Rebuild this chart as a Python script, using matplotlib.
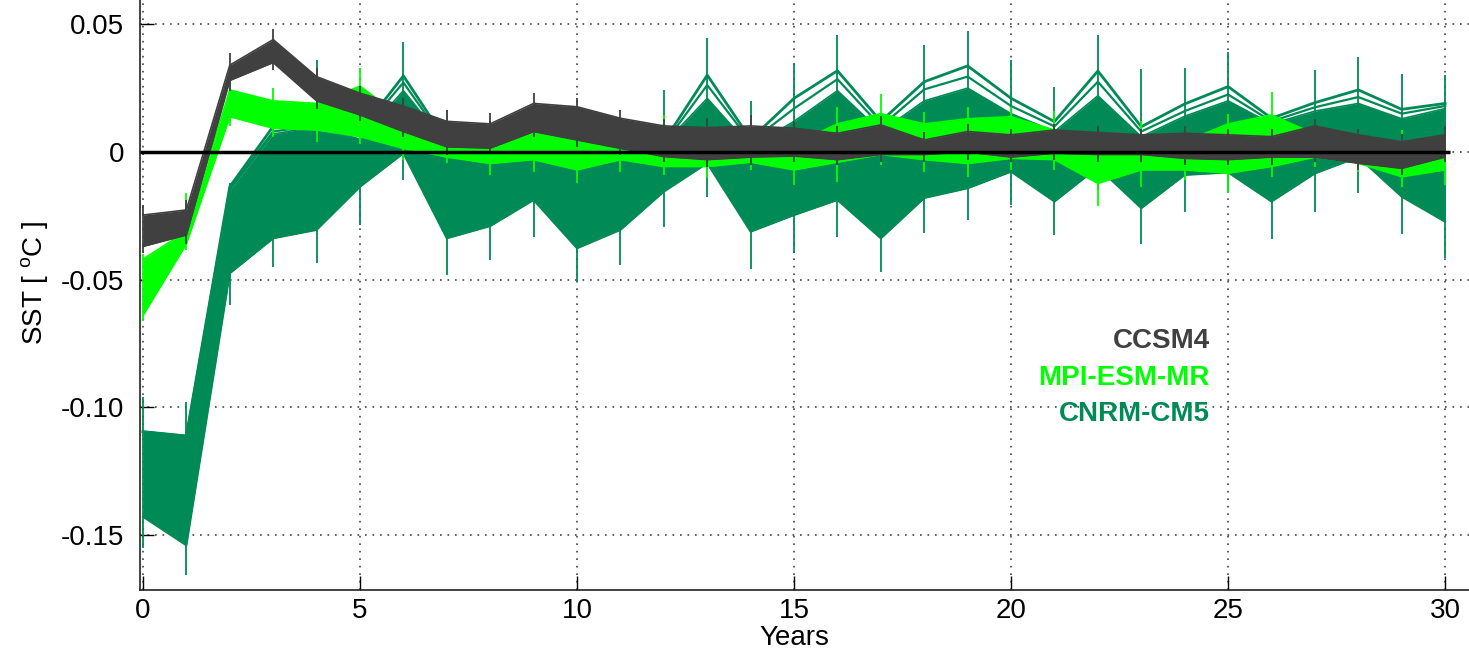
import matplotlib
matplotlib.use("Agg")
import matplotlib.pyplot as plt
import numpy as np

# Drift of SST ensembles after initialisation, three models

years = np.arange(31)

# CCSM4 ensemble envelope and error bars
ccsm4_hi = [-0.0247, -0.0227, 0.034, 0.044, 0.0295, 0.023, 0.018, 0.012, 0.011, 0.019, 0.0177,
            0.0132, 0.0102, 0.0095, 0.0102, 0.0093, 0.0073, 0.0106, 0.0047, 0.008, 0.0067,
            0.0086, 0.0076, 0.0067, 0.0073, 0.0067, 0.006, 0.0102, 0.0067, 0.004, 0.0067]
ccsm4_lo = [-0.037, -0.0325, 0.028, 0.035, 0.020, 0.0145, 0.008, 0.002, 0.0015, 0.008, 0.0047,
            0.0014, -0.0018, -0.003, -0.002, -0.0016, -0.003, -0.001, -0.001, 0.0, -0.002,
            -0.0005, -0.001, -0.001, -0.0025, -0.003, -0.002, -0.002, -0.0044, -0.0064, -0.002]
ccsm4_bar_hi = [-0.0207, -0.019, 0.0386, 0.048, 0.033, 0.026, 0.021, 0.0164, 0.0154, 0.0232, 0.021,
                0.0164, 0.013, 0.0132, 0.0145, 0.012, 0.010, 0.014, 0.008, 0.011, 0.009,
                0.011, 0.010, 0.009, 0.010, 0.009, 0.009, 0.013, 0.009, 0.007, 0.010]
ccsm4_bar_lo = [-0.0397, -0.036, 0.024, 0.032, 0.017, 0.012, 0.006, -0.001, 0.0, 0.006, 0.002,
                -0.001, -0.004, -0.006, -0.005, -0.004, -0.005, -0.004, -0.004, -0.003, -0.004,
                -0.003, -0.004, -0.004, -0.005, -0.005, -0.005, -0.004, -0.007, -0.009, -0.004]

# MPI-ESM-MR
mpi_hi = [-0.042, -0.031, 0.0243, 0.020, 0.019, 0.0258, 0.013, 0.004, 0.003, 0.009, 0.0047,
          0.0047, 0.0106, 0.002, 0.004, 0.003, 0.011, 0.015, 0.011, 0.013, 0.0138,
          0.0086, 0.002, 0.003, 0.004, 0.011, 0.0145, 0.007, 0.003, 0.002, 0.003]
mpi_lo = [-0.064, -0.036, 0.0138, 0.0093, 0.0086, 0.006, 0.0014, -0.002, -0.0045, -0.003, -0.007,
          -0.003, -0.0057, -0.0057, -0.004, -0.007, -0.004, -0.001, -0.003, -0.0045, -0.0025,
          -0.003, -0.0123, -0.007, -0.007, -0.0083, -0.0057, -0.002, -0.0044, -0.0097, -0.007]
mpi_bar_hi = [-0.040, -0.016, 0.028, 0.025, 0.024, 0.0328, 0.018, 0.0164, 0.010, 0.012, 0.010,
              0.009, 0.0145, 0.006, 0.008, 0.008, 0.0177, 0.0226, 0.0158, 0.0177, 0.0177,
              0.016, 0.008, 0.012, 0.010, 0.015, 0.0234, 0.012, 0.008, 0.0086, 0.008]
mpi_bar_lo = [-0.066, -0.0384, 0.010, 0.006, 0.004, 0.003, -0.003, -0.0044, -0.009, -0.0077, -0.0123,
              -0.0077, -0.009, -0.0103, -0.007, -0.0129, -0.0116, -0.005, -0.0077, -0.0097, -0.007,
              -0.007, -0.021, -0.0136, -0.011, -0.016, -0.0097, -0.006, -0.008, -0.0136, -0.0129]

# CNRM-CM5 (outer member, second member, dense core top, lower envelope)
cnrm_hi = [-0.1095, -0.1112, -0.0136, 0.010, 0.0115, 0.008, 0.0298, 0.004, 0.004, 0.004, 0.004,
           0.004, 0.004, 0.0301, 0.005, 0.021, 0.0318, 0.012, 0.0275, 0.0337, 0.021,
           0.0119, 0.0317, 0.0099, 0.0188, 0.0256, 0.0132, 0.0193, 0.0243, 0.0167, 0.019]
cnrm_mid = [-0.1095, -0.1112, -0.0145, 0.008, 0.0105, 0.007, 0.0272, 0.003, 0.003, 0.003, 0.003,
            0.003, 0.003, 0.0262, 0.004, 0.017, 0.0285, 0.010, 0.0245, 0.0295, 0.018,
            0.010, 0.0275, 0.008, 0.016, 0.0225, 0.012, 0.0175, 0.0215, 0.015, 0.018]
cnrm_core = [-0.1095, -0.1112, -0.015, 0.007, 0.010, 0.005, 0.024, 0.003, 0.002, 0.001, 0.002,
             0.002, 0.003, 0.021, 0.002, 0.012, 0.024, 0.008, 0.020, 0.025, 0.015,
             0.008, 0.022, 0.006, 0.014, 0.020, 0.011, 0.016, 0.019, 0.013, 0.017]
cnrm_lo = [-0.1428, -0.154, -0.0475, -0.0338, -0.0305, -0.0136, -0.0005, -0.0338, -0.029, -0.0188, -0.0377,
           -0.0305, -0.0155, -0.0044, -0.0312, -0.0247, -0.0188, -0.0338, -0.018, -0.0142, -0.0077,
           -0.0194, -0.006, -0.022, -0.009, -0.008, -0.0194, -0.0084, -0.002, -0.0175, -0.0273]
cnrm_bar_hi = [-0.0958, -0.0978, -0.012, 0.014, 0.036, 0.010, 0.0432, 0.012, 0.012, 0.010, 0.008,
               0.010, 0.0243, 0.0448, 0.020, 0.035, 0.0458, 0.015, 0.0419, 0.0475, 0.036,
               0.0253, 0.0458, 0.0325, 0.033, 0.0393, 0.015, 0.032, 0.0373, 0.0305, 0.030]
cnrm_bar_lo = [-0.155, -0.1656, -0.060, -0.045, -0.0435, -0.0286, -0.011, -0.048, -0.0423, -0.0334, -0.0508,
               -0.0442, -0.0292, -0.0175, -0.046, -0.0394, -0.0331, -0.0469, -0.0316, -0.0266, -0.0208,
               -0.0326, -0.015, -0.036, -0.0234, -0.0162, -0.0342, -0.0234, -0.0162, -0.0322, -0.0414]

models = ["CCSM4", "MPI-ESM-MR", "CNRM-CM5"]
c_gray = "#404040"
c_lime = "#00ff00"
c_cnrm = "#008a55"

plt.rcParams["font.family"] = "Liberation Sans"
plt.rcParams["mathtext.fontset"] = "custom"
plt.rcParams["mathtext.rm"] = "Liberation Sans"

fig = plt.figure(figsize=(14.69, 6.54), dpi=100)
ax = fig.add_axes([139.5 / 1469, 64 / 654, 1329.5 / 1469, 590 / 654])

# CNRM first (bottom), then MPI, then CCSM4 on top
ax.fill_between(years, cnrm_lo, cnrm_core, color=c_cnrm, lw=0, zorder=2)
ax.plot(years, cnrm_hi, color=c_cnrm, lw=2, zorder=2)
ax.plot(years, cnrm_mid, color=c_cnrm, lw=1.6, zorder=2)
ax.plot(years, cnrm_core, color=c_cnrm, lw=1.2, zorder=2)
ax.plot(years, cnrm_lo, color=c_cnrm, lw=1.5, zorder=2)
ax.vlines(years, cnrm_bar_lo, cnrm_bar_hi, color=c_cnrm, lw=1.3, zorder=2)

ax.fill_between(years, mpi_lo, mpi_hi, color=c_lime, lw=0, zorder=3)
ax.plot(years, mpi_hi, color=c_lime, lw=1.2, zorder=3)
ax.plot(years, mpi_lo, color=c_lime, lw=1.2, zorder=3)
ax.vlines(years, mpi_bar_lo, mpi_bar_hi, color=c_lime, lw=1.3, zorder=3)

ax.fill_between(years, ccsm4_lo, ccsm4_hi, color=c_gray, lw=0, zorder=4)
ax.plot(years, ccsm4_hi, color=c_gray, lw=1.2, zorder=4)
ax.plot(years, ccsm4_lo, color=c_gray, lw=1.2, zorder=4)
ax.vlines(years, ccsm4_bar_lo, ccsm4_bar_hi, color=c_gray, lw=1.3, zorder=4)

ax.set_xlim(-0.08, 30.55)
ax.set_ylim(-0.1715, 0.0595)
ax.hlines(0, -0.08, years[-1] + 0.12, color="black", lw=2.5, zorder=6)

ax.set_xticks(np.arange(0, 31, 5))
ax.set_yticks([-0.15, -0.10, -0.05, 0, 0.05])
ax.set_yticklabels(["-0.15", "-0.10", "-0.05", "0", "0.05"])
ax.tick_params(direction="in", length=10, width=1, labelsize=20, colors="black")
ax.tick_params(axis="y", pad=11)
ax.tick_params(axis="x", pad=6)
ax.spines["top"].set_visible(False)
ax.spines["right"].set_visible(False)
for s in ["left", "bottom"]:
    ax.spines[s].set_linewidth(1.2)
    ax.spines[s].set_color("#222222")

ax.set_axisbelow(True)
ax.grid(True, color="#444444", lw=1.2, linestyle=(0, (1, 3.5)))

ax.set_xlabel("Years", fontsize=20)
ax.xaxis.set_label_coords(0.4923, -0.081)
ax.xaxis.label.set_va("center")
ax.set_ylabel("SST [ $^{\\mathrm{o}}$C ]", fontsize=20)
ax.yaxis.set_label_coords(-0.0786, 0.52)
ax.yaxis.label.set_va("center")

label_y = [-0.0739, -0.0885, -0.1027]
for name, col, yy in zip(models, [c_gray, c_lime, c_cnrm], label_y):
    ax.text(24.58, yy, name, ha="right", va="center", fontsize=20,
            fontweight="bold", color=col, zorder=7)

fig.savefig("out.png", dpi=100)
